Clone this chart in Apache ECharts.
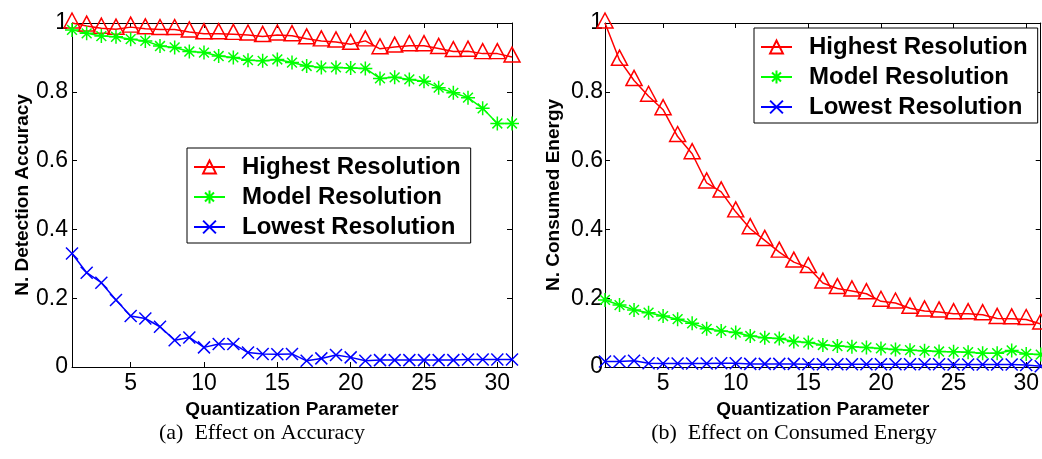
<!DOCTYPE html>
<html>
<head>
<meta charset="utf-8">
<script src="https://cdn.jsdelivr.net/npm/echarts@6/dist/echarts.min.js"></script>
<style>
html,body{margin:0;padding:0;background:#fff;}
#chart{width:1042px;height:459px;}
</style>
</head>
<body>
<div id="chart"></div>
<script>
// ---- data ----
var qp = [1,2,3,4,5,6,7,8,9,10,11,12,13,14,15,16,17,18,19,20,21,22,23,24,25,26,27,28,29,30,31];
var xTicks = [5,10,15,20,25,30];
var yTicks = [0,0.2,0.4,0.6,0.8,1];
var seriesNames = ['Highest Resolution','Model Resolution','Lowest Resolution'];

var accHighest = [1.000,0.991,0.985,0.982,0.988,0.983,0.981,0.981,0.974,0.969,0.969,0.967,0.965,0.961,0.965,0.963,0.954,0.948,0.945,0.938,0.948,0.925,0.930,0.934,0.934,0.926,0.917,0.918,0.911,0.911,0.901];
var accModel   = [0.980,0.970,0.962,0.960,0.953,0.948,0.933,0.929,0.917,0.914,0.904,0.900,0.892,0.890,0.894,0.885,0.875,0.871,0.871,0.869,0.868,0.839,0.842,0.836,0.831,0.812,0.797,0.783,0.752,0.708,0.708];
var accLowest  = [0.330,0.274,0.245,0.195,0.148,0.141,0.117,0.078,0.086,0.057,0.067,0.067,0.042,0.038,0.037,0.038,0.018,0.025,0.035,0.028,0.018,0.020,0.020,0.020,0.020,0.020,0.020,0.022,0.022,0.022,0.022];

var enHighest = [1.000,0.892,0.833,0.787,0.748,0.670,0.620,0.535,0.509,0.451,0.402,0.368,0.334,0.305,0.289,0.244,0.228,0.221,0.213,0.191,0.186,0.171,0.163,0.160,0.155,0.155,0.152,0.141,0.140,0.138,0.125];
var enModel   = [0.195,0.180,0.166,0.158,0.148,0.139,0.127,0.111,0.105,0.100,0.090,0.085,0.083,0.074,0.071,0.064,0.061,0.059,0.057,0.054,0.051,0.049,0.047,0.045,0.044,0.043,0.040,0.040,0.048,0.038,0.036];
var enLowest  = [0.016,0.016,0.018,0.011,0.010,0.010,0.010,0.010,0.011,0.011,0.009,0.009,0.009,0.009,0.008,0.008,0.008,0.008,0.008,0.008,0.008,0.008,0.008,0.008,0.007,0.007,0.007,0.007,0.007,0.006,0.002];

// ---- styles ----
var RED = '#ff0000', GREEN = '#00ff00', BLUE = '#0000ff';
var SANS = '"Liberation Sans", Arial, Helvetica, sans-serif';
var SERIF = '"Liberation Serif", "Times New Roman", serif';
var TRI = 'path://M0,17 L10,0 L20,17 Z';
var STAR = 'path://M5,0 L5,10 M0,5 L10,5 M1.5,1.5 L8.5,8.5 M8.5,1.5 L1.5,8.5';
var CROSS = 'path://M0,0 L10,10 M10,0 L0,10';

function pairs(xs, ys){ var out=[]; for (var i=0;i<xs.length;i++) out.push([xs[i], ys[i]]); return out; }

function mkSeries(name, data, color, symbol, size, offset, g){
  return {
    type:'line', name:name, data:pairs(qp, data),
    xAxisIndex:g*2, yAxisIndex:g*2,
    symbol:symbol, symbolSize:size, symbolOffset:offset, showSymbol:true,
    clip:false, animation:false,
    lineStyle:{color:color, width:1.5},
    itemStyle:{color:'rgba(0,0,0,0)', borderColor:color, borderWidth:1.5},
    emphasis:{disabled:true}
  };
}

var axisLineStyle = {color:'#000', width:1};

function xAxesFor(g){
  return [{
    type:'value', gridIndex:g, position:'bottom', min:1, max:31,
    axisLine:{show:true, onZero:false, lineStyle:axisLineStyle},
    axisTick:{show:true, inside:true, length:5, customValues:xTicks, lineStyle:axisLineStyle},
    axisLabel:{show:true, customValues:xTicks, color:'#000', fontSize:23, fontFamily:SANS, margin:5},
    splitLine:{show:false},
    name:'Quantization Parameter', nameLocation:'middle', nameGap:31,
    nameTextStyle:{color:'#000', fontSize:19, fontWeight:'bold', fontFamily:SANS}
  },{
    type:'value', gridIndex:g, position:'top', min:1, max:31,
    axisLine:{show:true, onZero:false, lineStyle:axisLineStyle},
    axisTick:{show:true, inside:true, length:5, customValues:xTicks, lineStyle:axisLineStyle},
    axisLabel:{show:false}, splitLine:{show:false}
  }];
}
function yAxesFor(g, title, gap, margin){
  return [{
    type:'value', gridIndex:g, position:'left', min:0, max:1, interval:0.2,
    axisLine:{show:true, onZero:false, lineStyle:axisLineStyle},
    axisTick:{show:true, inside:true, length:5, lineStyle:axisLineStyle},
    axisLabel:{show:true, color:'#000', fontSize:23, fontFamily:SANS, margin:margin,
      formatter:function(v){ return (v===0||v===1) ? String(v) : v.toFixed(1); }},
    splitLine:{show:false},
    name:title, nameLocation:'middle', nameRotate:90, nameGap:gap,
    nameTextStyle:{color:'#000', fontSize:19, fontWeight:'bold', fontFamily:SANS}
  },{
    type:'value', gridIndex:g, position:'right', min:0, max:1, interval:0.2,
    axisLine:{show:true, onZero:false, lineStyle:axisLineStyle},
    axisTick:{show:true, inside:true, length:5, lineStyle:axisLineStyle},
    axisLabel:{show:false}, splitLine:{show:false}
  }];
}

function legendAt(left, top){
  return {
    show:true, data:seriesNames, orient:'vertical', left:left, top:top,
    backgroundColor:'#fff', borderColor:'#000', borderWidth:1, borderRadius:0,
    padding:[7,10,4,6], itemWidth:31, itemHeight:16, itemGap:6,
    selectedMode:false,
    textStyle:{color:'#000', fontSize:24, fontWeight:'bold', fontFamily:SANS, lineHeight:24, padding:[0,0,0,12]}
  };
}

var chart = echarts.init(document.getElementById('chart'), null, {renderer:'canvas'});
var option = {
  animation:false,
  backgroundColor:'#fff',
  grid:[
    {left:72, top:23, width:440, height:344, containLabel:false},
    {left:605, top:23, width:440, height:344, containLabel:false}
  ],
  xAxis: xAxesFor(0).concat(xAxesFor(1)),
  yAxis: yAxesFor(0, 'N. Detection Accuracy', 40, 4).concat(yAxesFor(1, 'N. Consumed Energy', 42, 2)),
  legend:[ legendAt(187, 148), legendAt(754, 28) ],
  series:[
    mkSeries(seriesNames[0], accHighest, RED, TRI, [16,15], [0,-2.5], 0),
    mkSeries(seriesNames[1], accModel, GREEN, STAR, 14, [0,0], 0),
    mkSeries(seriesNames[2], accLowest, BLUE, CROSS, 12, [0,0], 0),
    mkSeries(seriesNames[0], enHighest, RED, TRI, [16,15], [0,-2.5], 1),
    mkSeries(seriesNames[1], enModel, GREEN, STAR, 14, [0,0], 1),
    mkSeries(seriesNames[2], enLowest, BLUE, CROSS, 12, [0,0], 1)
  ],
  graphic:[
    {type:'text', left:null, x:262, y:433, style:{text:'(a)  Effect on Accuracy', font:'22px ' + SERIF, fill:'#000', textAlign:'center', textVerticalAlign:'middle'}},
    {type:'text', x:794, y:433, style:{text:'(b)  Effect on Consumed Energy', font:'22px ' + SERIF, fill:'#000', textAlign:'center', textVerticalAlign:'middle'}}
  ]
};
chart.setOption(option);
</script>
</body>
</html>
